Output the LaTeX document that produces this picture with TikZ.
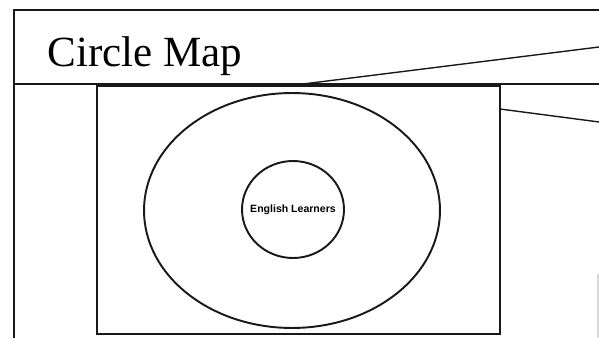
\documentclass[tikz,border=0pt]{standalone}
\usepackage{fontspec}
\setmainfont{Liberation Serif}
\setsansfont{Liberation Sans}
\usepackage{tikz}
\usetikzlibrary{positioning, shapes.geometric}

\begin{document}
\begin{tikzpicture}[x=0.02cm, y=-0.02cm,
  frame/.style={draw=black!90, line width=1pt},
  ring/.style={ellipse, draw=black!90, line width=1.1pt, inner sep=0pt},
  lbl/.style={font=\sffamily\bfseries\fontsize{6}{7}\selectfont, inner sep=0pt}]
\useasboundingbox (0,0) rectangle (599,338);
% outer frame and title bar
\coordinate (tl) at (14,10);
\coordinate (tr) at (599,10);
\coordinate (bl) at (14,338);
\coordinate (hl) at (14,84);
\coordinate (hr) at (599,84);
\draw[frame] (tr) -- (tl) -- (bl);
\draw[frame, line width=1.3pt] (hl) -- (hr);
\node[anchor=base west, inner sep=0pt, font=\fontsize{24.5}{28}\selectfont] (title) at (47,66) {Circle Map};
% map board
\node[frame, minimum width=8.06cm, minimum height=4.96cm, inner sep=0pt] (board) at (298.5,210) {};
\node[ring, minimum width=5.92cm, minimum height=4.7cm] (outer) at (292,210.5) {};
\node[ring, minimum width=2.04cm, minimum height=1.94cm] (inner) at (293,209.5) {};
\node[lbl] (el) at (inner.center) {English Learners};
% pointer lines
\coordinate (p1) at (303,84);
\coordinate (q1) at (599,47);
\coordinate (p2) at (500,109);
\coordinate (q2) at (599,122);
\draw[frame, line width=0.8pt] (p1) -- (q1);
\draw[frame, line width=0.8pt] (p2) -- (q2);
\coordinate (s1) at (598,274);
\coordinate (s2) at (598,338);
\draw[black!15, line width=0.6pt] (s1) -- (s2);
\end{tikzpicture}
\end{document}
